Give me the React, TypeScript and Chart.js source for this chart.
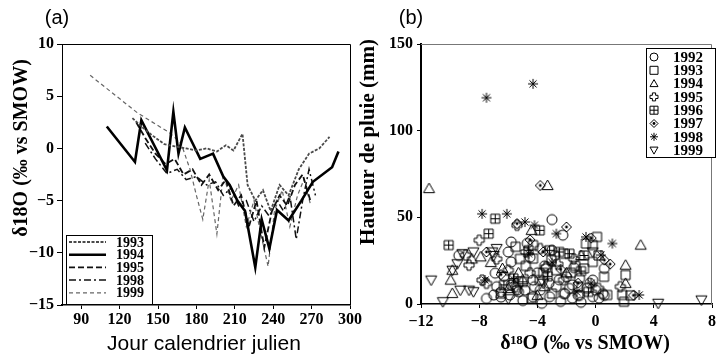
import React, { useEffect, useRef } from 'react';
import { Chart, registerables } from 'chart.js';

Chart.register(...registerables);

const SERIF = "'Liberation Serif', 'Times New Roman', serif";
const SANS = "'Liberation Sans', Arial, sans-serif";

// ---------- Panel (a): δ18O vs Julian day ----------
const days1993 = [130, 138, 146, 155, 163, 172, 180, 188, 196, 203, 209, 216, 220, 226, 232, 238, 245, 252, 260, 268, 276, 284];
const o18_1993 = [2.9, 2.0, 1.2, 0.4, 0.2, 0.0, -0.2, 0.0, -0.3, 0.3, -0.2, 1.4, -3.5, -5.0, -4.0, -6.0, -3.5, -4.5, -2.0, -0.5, 0.0, 1.1];
const days1994 = [110, 132, 137, 157, 162, 166, 171, 183, 193, 201, 206, 212, 218, 226, 231, 237, 243, 252, 262, 271, 286, 291];
const o18_1994 = [2.1, -1.3, 2.7, -2.1, 3.5, -0.5, 2.0, -1.0, -0.5, -2.7, -3.5, -5.0, -6.0, -11.4, -6.8, -9.6, -5.9, -6.9, -5.0, -3.2, -1.8, -0.3];
const days1995 = [133, 140, 148, 156, 163, 170, 177, 184, 190, 197, 203, 209, 215, 221, 227, 233, 239, 245, 251, 257, 263, 269];
const o18_1995 = [2.5, 1.0, -0.5, -1.5, -1.0, -2.5, -2.0, -3.5, -2.5, -4.0, -3.0, -5.5, -4.5, -7.5, -5.0, -9.5, -6.0, -4.5, -5.5, -3.5, -2.5, -5.0];
const days1998 = [140, 148, 157, 165, 172, 180, 188, 195, 201, 207, 213, 219, 225, 231, 237, 243, 248, 253, 258, 263, 268, 273];
const o18_1998 = [0.5, -1.0, -2.4, -2.0, -3.0, -2.7, -3.5, -3.2, -4.5, -3.8, -5.5, -5.0, -7.0, -5.5, -6.5, -5.0, -6.0, -4.5, -8.7, -5.0, -2.0, -4.5];
const days1999 = [97, 134, 159, 168, 175, 180, 185, 190, 196, 201, 207, 213, 219, 225, 230, 236, 241, 247, 253, 259, 264, 269];
const o18_1999 = [7.0, 3.4, 1.5, 0.5, -2.0, -4.5, -6.8, -3.0, -8.2, -2.5, -5.0, -3.5, -7.5, -5.0, -8.0, -11.3, -6.0, -4.0, -7.5, -4.5, -3.0, -5.3];

const yearsA = ['1993', '1994', '1995', '1998', '1999'];
const xTicksA = { min: 75, max: 300, step: 30 };
const yTicksA = { min: -15, max: 10, step: 5 };

// ---------- Panel (b): rain amount vs δ18O ----------
const pts1992: [number, number][] = [
  [-9.4, 28], [-3.0, 48.7], [-2.25, 39.7], [0.6, 20.5], [-7.5, 3.2], [-7.0, 5.2], [-6.5, 4], [-5.9, 5.2], [-5.3, 7],
  [-4.86, 8], [-4.3, 4.2], [-3.7, 0.4], [-3.16, 4.2], [-2.7, 10], [-2.2, 6], [-1.6, 3.4], [-1.2, 5], [-0.6, 9],
  [-0.2, 4.2], [0.24, 3.4], [0.5, 6], [-5.8, 24.3], [-4.7, 35], [-5.8, 35.8], [-4.3, 13.8], [-2.0, 15.7], [-1.1, 14.8],
  [-6.3, 16], [-3.5, 22], [-2.8, 28], [-6.0, 30], [-4.0, 18], [-1.5, 21], [-0.4, 12], [-3.8, 8], [-2.4, 1.5],
  [-1.0, 1.0], [-5.0, 2], [-6.8, 10], [-3.2, 12], [-1.8, 9], [0.0, 8], [-4.5, 27],
  [-3.0, 31], [-3.4, 20.5], [-5.4, 8], [-6.5, 7], [-2.1, 6], [-1.1, 5], [0.6, 5], [-6.9, 17.8], [-0.2, 13.8],
  [-5.8, 11], [-1.6, 11], [-2.5, 14], [-4.2, 10],
];
const pts1993: [number, number][] = [
  [-4.3, 34], [-3.04, 25.3], [-2.7, 19.5], [-4.3, 26.2], [-3.84, 13.8], [-4.4, 3.3], [-0.66, 34.9], [0.1, 38.7],
  [-0.2, 24.3], [0.58, 15.7], [0.8, 5.2], [1.83, 5.2], [1.95, 1.3], [2.06, 16.7], [-0.2, 34], [-0.8, 20.5],
  [-5.5, 33], [-2.2, 29], [-1.4, 22], [-6.5, 6], [-3.0, 6], [-1.2, 10], [2.4, 5], [-4.8, 22],
  [-5.2, 26], [-1.7, 18], [-3.6, 18], [0.2, 28],
];
const pts1994: [number, number][] = [
  [-11.45, 66.6], [-3.3, 68.4], [3.1, 34], [-9.85, 6.1], [-9.96, 13.8], [-9.85, 19.5], [-4.4, 42.5], [2.06, 22.4],
  [2.06, 11.9], [-7.9, 27.2], [-6.4, 20.5], [-5.0, 14], [-3.5, 10], [-7.2, 24], [-2.0, 18], [-1.0, 28], [-6.0, 9],
  [-4.0, 5], [-8.5, 26], [-5.3, 18],
];
const pts1995: [number, number][] = [
  [-8.0, 36.8], [-8.7, 22.4], [-7.8, 13.8], [-7.5, 11.9], [-6.0, 19.5], [-5.4, 45.4], [-3.4, 21.4], [-8.94, 28.2],
  [-6.8, 26], [-5.5, 10], [-4.5, 18], [-2.6, 23], [-1.5, 26], [-3.8, 32], [0.2, 9], [1.7, 10], [-2.2, 14], [-4.8, 30],
];
const pts1996: [number, number][] = [
  [-10.1, 34], [-7.35, 40.6], [-6.9, 49.2], [-3.84, 42.5], [-2.5, 30], [-1.8, 29], [-0.8, 28], [-5.65, 14.8],
  [-3.16, 31], [-5.0, 12.8], [-4.6, 31], [-3.3, 16], [-1.0, 19], [-6.3, 11], [-0.5, 7],
];
const pts1997: [number, number][] = [
  [-3.8, 68.4], [-2.0, 44.4], [-5.4, 46.4], [-0.3, 38], [0.6, 25.3], [-3.6, 30], [-4.5, 37], [-2.4, 20], [-6.5, 17],
  [-1.2, 12], [1.0, 23], [2.6, 5], [-7.5, 30],
];
const pts1998: [number, number][] = [
  [-7.5, 119], [-4.3, 127], [-7.8, 52], [-6.1, 52], [-4.86, 47.3], [-4.2, 45.4], [-2.7, 40.6], [-0.66, 38.7],
  [1.15, 34.9], [0.36, 28.2], [-7.6, 13.8], [-4.6, 29], [3.0, 5.2], [-3.0, 24], [-1.3, 7], [-5.6, 14], [-0.3, 12],
];
const pts1999: [number, number][] = [
  [-11.3, 13.8], [-10.5, 1.3], [-9.84, 19.5], [-9.5, 23.2], [-9.16, 29], [-8.4, 30], [-8.7, 8], [-8.4, 7.1],
  [-9.3, 8], [-6.8, 32], [-7.1, 30], [-0.2, 30], [4.3, 0.4], [7.27, 2.3], [-5.4, 8], [-7.0, 28], [-3.6, 12], [-6.0, 3],
];
const yearsB = ['1992', '1993', '1994', '1995', '1996', '1997', '1998', '1999'];
const xTicksB = { min: -12, max: 8, step: 4 };
const yTicksB = { min: 0, max: 150, step: 50 };

// ---------- styles ----------
const lineStylesA = [
  { color: '#4a4a4a', width: 1.8, dash: [3, 1.5] },
  { color: '#000000', width: 2.6, dash: [] as number[] },
  { color: '#111111', width: 1.8, dash: [6, 3] },
  { color: '#111111', width: 1.5, dash: [7, 3, 2, 3] },
  { color: '#666666', width: 1.2, dash: [4, 3] },
];
const symKindsB = ['circle', 'square', 'tri', 'plus', 'sqplus', 'diamond', 'star', 'itri'];
const symSizesB = [5, 4.5, 5.5, 5, 4.5, 5, 5, 5.5];

const minusFmt = (v: number | string) => String(v).replace('-', '\u2212');

function drawSym(ctx: CanvasRenderingContext2D, kind: string, x: number, y: number, r: number) {
  ctx.save();
  ctx.strokeStyle = '#000';
  ctx.fillStyle = '#000';
  ctx.lineWidth = 1;
  ctx.beginPath();
  if (kind === 'circle') {
    ctx.arc(x, y, r, 0, Math.PI * 2);
  } else if (kind === 'square') {
    ctx.rect(x - r, y - r, 2 * r, 2 * r);
  } else if (kind === 'tri') {
    ctx.moveTo(x, y - r); ctx.lineTo(x + r, y + r * 0.75); ctx.lineTo(x - r, y + r * 0.75); ctx.closePath();
  } else if (kind === 'itri') {
    ctx.moveTo(x, y + r); ctx.lineTo(x + r, y - r * 0.75); ctx.lineTo(x - r, y - r * 0.75); ctx.closePath();
  } else if (kind === 'plus') {
    const a = r * 0.4;
    const p = [[-a, -r], [a, -r], [a, -a], [r, -a], [r, a], [a, a], [a, r], [-a, r], [-a, a], [-r, a], [-r, -a], [-a, -a]];
    p.forEach(([dx, dy], i) => (i === 0 ? ctx.moveTo(x + dx, y + dy) : ctx.lineTo(x + dx, y + dy)));
    ctx.closePath();
  } else if (kind === 'sqplus') {
    ctx.rect(x - r, y - r, 2 * r, 2 * r);
    ctx.moveTo(x - r, y); ctx.lineTo(x + r, y);
    ctx.moveTo(x, y - r); ctx.lineTo(x, y + r);
  } else if (kind === 'diamond') {
    ctx.moveTo(x, y - r); ctx.lineTo(x + r, y); ctx.lineTo(x, y + r); ctx.lineTo(x - r, y); ctx.closePath();
  } else if (kind === 'star') {
    for (let k = 0; k < 4; k++) {
      const a = (k * Math.PI) / 4;
      ctx.moveTo(x - r * Math.cos(a), y - r * Math.sin(a));
      ctx.lineTo(x + r * Math.cos(a), y + r * Math.sin(a));
    }
  }
  ctx.stroke();
  if (kind === 'diamond') {
    ctx.beginPath();
    ctx.arc(x, y, 1.4, 0, Math.PI * 2);
    ctx.fill();
  }
  ctx.restore();
}

function makeSymImg(kind: string, r: number) {
  const s = Math.ceil(2 * r + 4);
  const c = document.createElement('canvas');
  c.width = s; c.height = s;
  const ctx = c.getContext('2d')!;
  drawSym(ctx, kind, s / 2, s / 2, r);
  return c;
}

function PanelA() {
  const ref = useRef<HTMLCanvasElement>(null);
  useEffect(() => {
    const xs = [days1993, days1994, days1995, days1998, days1999];
    const ys = [o18_1993, o18_1994, o18_1995, o18_1998, o18_1999];
    const datasets = yearsA.map((yr, i) => ({
      label: yr,
      data: xs[i].map((d, j) => ({ x: d, y: ys[i][j] })),
      showLine: true,
      borderColor: lineStylesA[i].color,
      borderWidth: lineStylesA[i].width,
      borderDash: lineStylesA[i].dash,
      pointRadius: 0,
      fill: false,
      tension: 0,
    }));
    const decor = {
      id: 'decorA',
      afterDraw(chart: any) {
        const ctx: CanvasRenderingContext2D = chart.ctx;
        const { left, right, top, bottom } = chart.chartArea;
        ctx.save();
        ctx.strokeStyle = '#000';
        ctx.lineWidth = 1;
        ctx.beginPath();
        ctx.moveTo(left, top + 0.5);
        ctx.lineTo(right + 0.5, top + 0.5);
        ctx.lineTo(right + 0.5, bottom);
        ctx.stroke();
        ctx.fillStyle = '#000';
        ctx.textAlign = 'center';
        ctx.textBaseline = 'middle';
        ctx.font = `20px ${SANS}`;
        ctx.fillText('(a)', 57, 18);
        ctx.font = `21px ${SANS}`;
        ctx.fillText('Jour calendrier julien', 204, 344);
        ctx.save();
        ctx.translate(22, 148);
        ctx.rotate(-Math.PI / 2);
        ctx.font = `bold 20px ${SERIF}`;
        ctx.fillText('δ18O (‰ vs SMOW)', 0, 0);
        ctx.restore();
        // legend
        ctx.fillStyle = '#fff';
        ctx.fillRect(66, 235, 86, 69);
        ctx.strokeStyle = '#000';
        ctx.lineWidth = 1;
        ctx.strokeRect(66.5, 235.5, 86, 69);
        ctx.textAlign = 'left';
        ctx.font = `bold 14px ${SERIF}`;
        yearsA.forEach((yr, i) => {
          const y = 242 + i * 12.7;
          const st = lineStylesA[i];
          ctx.save();
          ctx.strokeStyle = st.color;
          ctx.lineWidth = st.width;
          ctx.setLineDash(st.dash);
          ctx.beginPath();
          ctx.moveTo(69, y);
          ctx.lineTo(106, y);
          ctx.stroke();
          ctx.restore();
          ctx.fillStyle = '#000';
          ctx.fillText(yr, 116, y + 1);
        });
        ctx.restore();
      },
    };
    const chart = new Chart(ref.current!, {
      type: 'scatter',
      data: { datasets },
      options: {
        animation: false,
        responsive: false,
        layout: { padding: { left: 0, top: 44, right: 25, bottom: 0 } },
        plugins: { legend: { display: false }, tooltip: { enabled: false } },
        scales: {
          x: {
            type: 'linear',
            position: 'bottom',
            min: xTicksA.min,
            max: xTicksA.max,
            afterFit: (s: any) => { s.height = 55; },
            grid: { display: true, drawOnChartArea: false, drawTicks: true, tickLength: 4, color: '#000' },
            border: { display: true, color: '#000', width: 1.5 },
            ticks: {
              stepSize: xTicksA.step,
              includeBounds: false,
              autoSkip: false,
              maxRotation: 0,
              padding: 1,
              color: '#000',
              font: { family: SERIF, size: 16, weight: 'bold' },
              callback: (v: any) => minusFmt(v),
            },
          },
          y: {
            type: 'linear',
            min: yTicksA.min,
            max: yTicksA.max,
            afterFit: (s: any) => { s.width = 62; },
            grid: { display: true, drawOnChartArea: false, drawTicks: true, tickLength: 5, color: '#000' },
            border: { display: true, color: '#000', width: 1 },
            ticks: {
              stepSize: yTicksA.step,
              padding: 3,
              color: '#000',
              font: { family: SERIF, size: 16, weight: 'bold' },
              callback: (v: any) => minusFmt(v),
            },
          },
        },
      } as any,
      plugins: [decor],
    });
    return () => chart.destroy();
  }, []);
  return <canvas ref={ref} width={375} height={360} style={{ position: 'absolute', left: 0, top: 0 }} />;
}

function PanelB() {
  const ref = useRef<HTMLCanvasElement>(null);
  useEffect(() => {
    const all = [pts1992, pts1993, pts1994, pts1995, pts1996, pts1997, pts1998, pts1999];
    const imgs = symKindsB.map((k, i) => makeSymImg(k, symSizesB[i]));
    const datasets = yearsB.map((yr, i) => ({
      label: yr,
      data: all[i].map(([x, y]) => ({ x, y })),
      pointStyle: imgs[i],
      pointRadius: 5,
      showLine: false,
      clip: false,
    }));
    const decor = {
      id: 'decorB',
      afterDraw(chart: any) {
        const ctx: CanvasRenderingContext2D = chart.ctx;
        const { left, right, top, bottom } = chart.chartArea;
        ctx.save();
        ctx.strokeStyle = '#777';
        ctx.lineWidth = 1;
        ctx.beginPath();
        ctx.moveTo(left, top + 0.5);
        ctx.lineTo(right - 0.5, top + 0.5);
        ctx.lineTo(right - 0.5, bottom);
        ctx.stroke();
        ctx.fillStyle = '#000';
        ctx.textAlign = 'center';
        ctx.textBaseline = 'middle';
        ctx.font = `20px ${SANS}`;
        ctx.fillText('(b)', 411 - 340, 18);
        ctx.font = `bold 20px ${SERIF}`;
        ctx.fillText('δ¹⁸O (‰ vs SMOW)', 585 - 340, 344);
        ctx.save();
        ctx.translate(369 - 340, 142);
        ctx.rotate(-Math.PI / 2);
        ctx.font = `bold 21px ${SERIF}`;
        ctx.fillText('Hauteur de pluie (mm)', 0, 0);
        ctx.restore();
        // legend
        const bx = 646 - 340;
        ctx.fillStyle = '#fff';
        ctx.fillRect(bx, 48, 69, 109);
        ctx.strokeStyle = '#000';
        ctx.lineWidth = 1;
        ctx.strokeRect(bx + 0.5, 48.5, 69, 109);
        ctx.textAlign = 'left';
        ctx.font = `bold 15px ${SERIF}`;
        yearsB.forEach((yr, i) => {
          const y = 57 + i * 13.3;
          drawSym(ctx, symKindsB[i], bx + 8, y, 4);
          ctx.fillStyle = '#000';
          ctx.fillText(yr, bx + 27, y + 1);
        });
        ctx.restore();
      },
    };
    const chart = new Chart(ref.current!, {
      type: 'scatter',
      data: { datasets },
      options: {
        animation: false,
        responsive: false,
        layout: { padding: { left: 0, top: 44, right: 1, bottom: 0 } },
        plugins: { legend: { display: false }, tooltip: { enabled: false } },
        scales: {
          x: {
            type: 'linear',
            position: 'bottom',
            min: xTicksB.min,
            max: xTicksB.max,
            afterFit: (s: any) => { s.height = 56; },
            grid: { display: true, drawOnChartArea: false, drawTicks: true, tickLength: 4, color: '#000' },
            border: { display: true, color: '#000', width: 1.5 },
            ticks: {
              stepSize: xTicksB.step,
              autoSkip: false,
              maxRotation: 0,
              padding: 4,
              color: '#000',
              font: { family: SERIF, size: 16, weight: 'bold' },
              callback: (v: any) => minusFmt(v),
            },
          },
          y: {
            type: 'linear',
            min: yTicksB.min,
            max: yTicksB.max,
            afterFit: (s: any) => { s.width = 81; },
            grid: { display: true, drawOnChartArea: false, drawTicks: true, tickLength: 4, color: '#000' },
            border: { display: true, color: '#000', width: 2 },
            ticks: {
              stepSize: yTicksB.step,
              padding: 4,
              color: '#000',
              font: { family: SERIF, size: 16, weight: 'bold' },
              callback: (v: any) => minusFmt(v),
            },
          },
        },
      } as any,
      plugins: [decor],
    });
    return () => chart.destroy();
  }, []);
  return <canvas ref={ref} width={380} height={360} style={{ position: 'absolute', left: 340, top: 0 }} />;
}

export default function App() {
  return (
    <div style={{ position: 'fixed', left: 0, top: 0, width: 720, height: 360, background: '#fff', overflow: 'hidden' }}>
      <PanelA />
      <PanelB />
    </div>
  );
}
